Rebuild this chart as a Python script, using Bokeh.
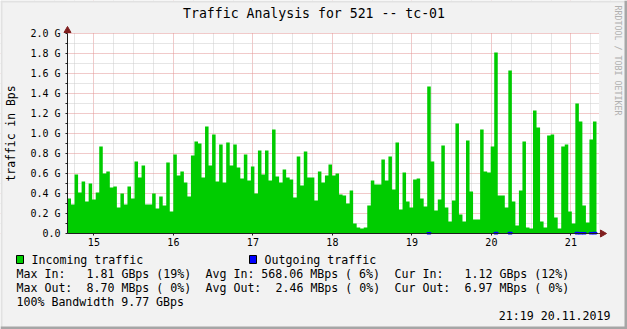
import math
import re
from bokeh.plotting import figure
from bokeh.models import ColumnDataSource, FixedTicker, Label, BoxAnnotation
from bokeh.embed import file_html
from bokeh.resources import INLINE

# ---------------- data ----------------
TITLE = "Traffic Analysis for 521 -- tc-01"
Y_AXIS_LABEL = "traffic in Bps"
WATERMARK = "RRDTOOL / TOBI OETIKER"

DAY_TICKS = [15, 16, 17, 18, 19, 20, 21]
DAY_LABELS = ["15", "16", "17", "18", "19", "20", "21"]
Y_TICKS = [0.0, 0.2, 0.4, 0.6, 0.8, 1.0, 1.2, 1.4, 1.6, 1.8, 2.0]
Y_LABELS = ["0.0", "0.2 G", "0.4 G", "0.6 G", "0.8 G", "1.0 G",
            "1.2 G", "1.4 G", "1.6 G", "1.8 G", "2.0 G"]

# time span of the samples (day of month)
T_START = 14.668
T_END = 21.322

# incoming traffic, G bits per second, one value per sample
INCOMING_GBPS = [
    0.35, 0.29, 0.59, 0.41, 0.52, 0.32, 0.50, 0.34, 0.41, 0.87, 0.60, 0.62,
    0.46, 0.47, 0.26, 0.40, 0.29, 0.47, 0.35, 0.72, 0.56, 0.68,
    0.29, 0.29,
    0.40, 0.25, 0.37, 0.28, 0.71, 0.22, 0.79, 0.58, 0.62, 0.51, 0.37, 0.78,
    0.92, 0.90, 0.56, 1.07, 0.68, 0.99, 0.52, 0.89, 0.51, 0.91, 0.68, 0.89, 0.66,
    0.55, 0.79, 0.53, 0.67, 0.40, 0.83, 0.59, 0.83, 0.53, 1.04, 0.57, 0.51,
    0.64, 0.56, 0.54, 0.36, 0.77, 0.48, 0.82,
    0.56, 0.56,
    0.33, 0.62, 0.51, 0.58, 0.69, 0.58, 0.60, 0.39, 0.38, 0.30, 0.43, 0.10,
    0.06, 0.05, 0.06, 0.28, 0.53,
    0.49, 0.49,
    0.74, 0.53, 0.77, 0.44, 0.91, 0.24, 0.61, 0.32, 0.26, 0.54, 0.55, 0.35,
    0.27, 1.47, 0.72, 0.23, 0.34, 0.88, 0.26, 0.12, 0.33, 1.10, 0.19, 0.12,
    0.93, 0.42,
    0.14, 0.14,
    1.04, 0.62, 0.61, 0.87, 1.81, 0.38, 0.38, 0.26, 1.63, 0.32, 0.08, 0.43,
    0.92, 0.06, 0.05, 1.23, 1.06, 0.12, 0.06, 0.98, 0.99, 0.16, 0.05, 0.87,
    0.89, 0.22, 0.10, 1.30, 1.12, 0.28, 0.11, 0.94, 1.12,
]

# outgoing traffic, M bits per second, one value per sample
OUTGOING_MBPS = [
    0, 0, 0, 0, 0, 0, 0, 0, 0, 0,
    0, 0, 0, 0, 0, 0, 0, 0, 0, 0,
    0, 0, 0, 0, 0, 0, 0, 0, 0, 0,
    0, 0, 0, 0, 0, 0, 0, 0, 0, 0,
    0, 0, 0, 0, 0, 0, 0, 0, 0, 0,
    0, 0, 0, 0, 0, 0, 0, 0, 0, 0,
    0, 0, 0, 0, 0, 0, 0, 0, 0, 0,
    0, 0, 0, 0, 0, 0, 0, 0, 0, 0,
    0, 0, 0, 0, 0, 0, 0, 0, 0, 0,
    0, 0, 0, 0, 0, 0, 0, 0, 0, 0,
    0, 0, 5.2, 0, 0, 0, 0, 0, 0, 0,
    0, 0, 0, 0, 0, 0, 0, 0, 0, 0,
    0, 8.7, 0, 0, 0, 7.1, 0, 0, 0, 0,
    0, 0, 0, 0, 0, 0, 0, 0, 0, 0,
    0, 0, 0, 0, 6.4, 5.8, 5.0, 0, 6.2, 6.97,
]

LEGEND_LABELS = ["Incoming traffic", "Outgoing traffic"]
STATS_LINES = [
    "Max In:   1.81 GBps (19%)  Avg In: 568.06 MBps ( 6%)  Cur In:   1.12 GBps (12%)",
    "Max Out:  8.70 MBps ( 0%)  Avg Out:  2.46 MBps ( 0%)  Cur Out:  6.97 MBps ( 0%)",
    "100% Bandwidth 9.77 GBps",
]
TIMESTAMP = "21:19 20.11.2019"

# ---------------- style / layout ----------------
FONT = "DejaVu Sans Mono"
W, H = 627, 329
FL, FR, FT, FB = 67, 598, 33, 233          # chart area in canvas pixels
PX_PER_DAY = 79.5
PX_PER_G = 100.0
X_MIN = T_START
X_MAX = X_MIN + (FR - FL) / PX_PER_DAY
CHAR_W = 7.0                               # advance of the 11.6px mono font

GREEN = "#00CC00"
BLUE = "#0000FF"
BACK = "#F2F2F2"
SHADE_A = "#E2E2E2"
SHADE_B = "#A6A6A6"
MGRID = "#E29494"
GRID = "#CCCCCC"
AXIS = "#1F1F1F"
ARROW = "#801F1F"

# the frame covers the whole canvas; the chart area is mapped through the ranges
x_lo = X_MIN - FL / PX_PER_DAY
x_hi = X_MIN + (W - FL) / PX_PER_DAY
y_lo = -(H - FB) / PX_PER_G
y_hi = FB / PX_PER_G

p = figure(width=W, height=H, x_range=(x_lo, x_hi), y_range=(y_lo, y_hi),
           min_border=0, output_backend="svg", toolbar_location=None)
p.title.visible = False
p.background_fill_color = "white"
p.border_fill_color = BACK
p.outline_line_color = None

# axes drawn at the chart-area edges
p.xaxis.fixed_location = 0.0
p.xaxis.bounds = (X_MIN, X_MAX)
p.yaxis.fixed_location = X_MIN
p.yaxis.bounds = (0.0, 2.0)

p.xaxis.ticker = FixedTicker(ticks=DAY_TICKS,
                             minor_ticks=[d + q for d in range(14, 22) for q in (0.25, 0.5, 0.75)])
p.xaxis.major_label_overrides = {t: l for t, l in zip(DAY_TICKS, DAY_LABELS)}
p.yaxis.ticker = FixedTicker(ticks=Y_TICKS,
                             minor_ticks=[0.1, 0.3, 0.5, 0.7, 0.9, 1.1, 1.3, 1.5, 1.7, 1.9])
p.yaxis.major_label_overrides = {t: l for t, l in zip(Y_TICKS, Y_LABELS)}

for ax in (p.xaxis[0], p.yaxis[0]):
    ax.axis_line_color = AXIS
    ax.major_label_text_font = FONT
    ax.major_label_text_font_size = "10px"
    ax.major_label_text_color = "black"
    ax.major_tick_line_color = AXIS
    ax.minor_tick_line_color = AXIS
    ax.major_tick_in = 0
    ax.minor_tick_in = 0
p.xaxis.major_tick_out = 2
p.xaxis.minor_tick_out = 0
p.xaxis.major_label_standoff = 2
p.yaxis.major_tick_out = 2
p.yaxis.minor_tick_out = 2
p.yaxis.major_label_standoff = 5

for g in (p.xgrid[0], p.ygrid[0]):
    g.grid_line_color = MGRID
    g.grid_line_dash = "1 1"
    g.grid_line_width = 1
    g.minor_grid_line_color = GRID
    g.minor_grid_line_dash = "1 1"
    g.minor_grid_line_width = 1


def canvas_box(x0, y0, x1, y1, color, level="underlay", outline=None):
    return BoxAnnotation(left=x0, right=x1, top=H - y0, bottom=H - y1,
                         left_units="screen", right_units="screen",
                         top_units="screen", bottom_units="screen",
                         fill_color=color, fill_alpha=1.0,
                         line_color=outline or color, line_alpha=1.0 if outline else 0.0,
                         line_width=1, level=level)

# grey margins around the chart area (over the grid, under the data)
p.add_layout(canvas_box(0, 0, W, FT - 0.5, BACK))
p.add_layout(canvas_box(0, FB + 0.5, W, H, BACK))
p.add_layout(canvas_box(0, 0, FL - 0.5, H, BACK))
p.add_layout(canvas_box(FR + 0.5, 0, W, H, BACK))
# 3D-ish shading of the outer border
p.add_layout(canvas_box(0, 0, W, 2, SHADE_A))
p.add_layout(canvas_box(0, 0, 2, H, SHADE_A))
p.add_layout(canvas_box(W - 3, 0, W, H, SHADE_B))
p.add_layout(canvas_box(0, H - 3, W, H, SHADE_B))

# incoming area (step)
n = len(INCOMING_GBPS)
step = (T_END - T_START) / n
edges = [T_START + i * step for i in range(n + 1)]
src_in = ColumnDataSource(dict(x=edges, y1=[0.0] * (n + 1),
                               y2=INCOMING_GBPS + INCOMING_GBPS[-1:]))
p.varea_step(x="x", y1="y1", y2="y2", step_mode="after", source=src_in,
             fill_color=GREEN)

# outgoing (tiny values at the bottom)
idx = [i for i, v in enumerate(OUTGOING_MBPS) if v > 0]
src_out = ColumnDataSource(dict(x=[T_START + (i + 0.5) * step for i in idx],
                                top=[OUTGOING_MBPS[i] / 1000.0 for i in idx]))
p.vbar(x="x", top="top", bottom=0, width=step, source=src_out,
       fill_color=BLUE, line_color=BLUE, line_width=2)

# arrow heads at the axis ends
p.segment(x0=[X_MAX], y0=[0.0], x1=[X_MAX + 4 / PX_PER_DAY], y1=[0.0],
          line_color=ARROW, line_width=1)
p.scatter(x=[X_MAX + 4 / PX_PER_DAY], y=[0.0], marker="triangle", angle=-math.pi / 2,
          size=7, fill_color=ARROW, line_color=ARROW)
p.scatter(x=[X_MIN], y=[2.0 + 3 / PX_PER_G], marker="triangle",
          size=7, fill_color=ARROW, line_color=ARROW)


def canvas_label(cx, cy, text, size="11.6px", align="left", color="black", angle=0.0):
    return Label(x=cx, y=H - cy, x_units="screen", y_units="screen", text=text,
                 text_font=FONT, text_font_size=size, text_align=align,
                 text_baseline="middle", text_color=color, angle=angle)


def mono_line(cx, cy, text):
    # SVG collapses runs of spaces, so place each space-separated run by its column
    for m in re.finditer(r"\S+(?: \S+)*", text):
        p.add_layout(canvas_label(cx + m.start() * CHAR_W, cy, m.group()))


p.add_layout(canvas_label(313.5, 13, TITLE, size="13.2px", align="center"))
p.add_layout(canvas_label(10, 133, Y_AXIS_LABEL, size="11.4px", align="center",
                          angle=math.pi / 2))
p.add_layout(canvas_label(617.5, 5, WATERMARK, size="8.3px", color="#B0B0B0",
                          angle=-math.pi / 2))

# legend (boxes + labels)
LEGEND_COLORS = [GREEN, BLUE]
for k, (lab, col) in enumerate(zip(LEGEND_LABELS, LEGEND_COLORS)):
    x0 = 16 + k * 233
    p.add_layout(canvas_box(x0, 255, x0 + 7, 263, col, level="annotation", outline="black"))
    p.add_layout(canvas_label(x0 + 15, 259, lab))

for r, line in enumerate(STATS_LINES):
    mono_line(16, 273 + r * 14, line)
p.add_layout(canvas_label(610, 315, TIMESTAMP, align="right"))

open("out.html", "w").write(file_html(p, INLINE))
